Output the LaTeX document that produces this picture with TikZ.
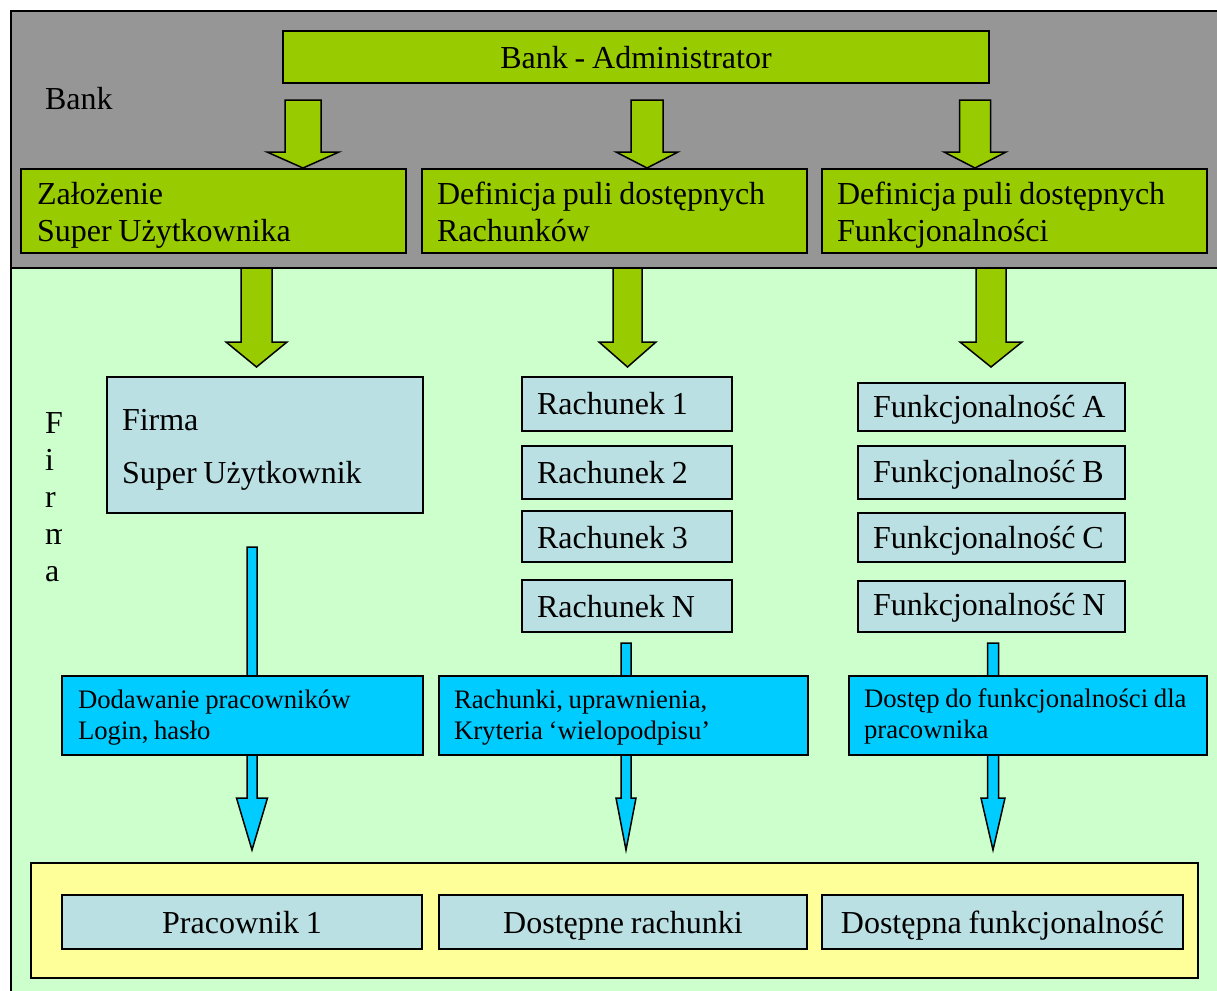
\documentclass[tikz,border=0pt]{standalone}
\usepackage{fontspec}
\setmainfont{Liberation Serif}[WordSpace=0.85]

\definecolor{bankgray}{RGB}{150,150,150}
\definecolor{limegreen}{RGB}{153,204,0}
\definecolor{mintbg}{RGB}{204,255,204}
\definecolor{paleblue}{RGB}{187,224,227}
\definecolor{skyblue}{RGB}{0,204,255}
\definecolor{paleyellow}{RGB}{255,255,153}

% empty box spanning (x1,y1) to (x2,y2)
\newcommand\panel[6]{%
  \pgfmathsetmacro\panelw{#5-#3}%
  \pgfmathsetmacro\panelh{#6-#4}%
  \node[#2, anchor=north west, minimum width=\panelw pt, minimum height=\panelh pt]
    (#1) at (#3,#4) {};}

% lines stacked with the current baselineskip; the baseline is that of the first line
\newcommand\twolines[2]{\vtop{\hbox{#1}\hbox{#2}}}

% block arrow: centre x, shaft top, head top, tip, shaft half width, head half width
\newcommand\blockarrow[7]{%
  \draw[#1] (#2-#6,#3) -- (#2-#6,#4) -- (#2-#7,#4) -- (#2,#5)
            -- (#2+#7,#4) -- (#2+#6,#4) -- (#2+#6,#3) -- cycle;}

\begin{document}
\begin{tikzpicture}[x=1pt,y=-1pt,
  box/.style={draw=black, line width=1.5pt, inner sep=0pt, outer sep=0pt},
  gbox/.style={box, fill=limegreen},
  lbox/.style={box, fill=paleblue},
  cbox/.style={box, fill=skyblue},
  big/.style={inner sep=0pt, outer sep=0pt, font=\fontsize{32}{37}\selectfont},
  small/.style={inner sep=0pt, outer sep=0pt, font=\fontsize{26.7}{31}\selectfont},
  garrow/.style={draw=black, line width=1.5pt, fill=limegreen, line join=miter},
  carrow/.style={draw=black, line width=1.5pt, fill=skyblue, line join=miter},
  zone/.style={draw=black, line width=2pt}]

\useasboundingbox (0,0) rectangle (1217,990);
\clip (0,0) rectangle (1217,990);

% bank and company zones
\fill[bankgray] (11,11) rectangle (1240,268);
\fill[mintbg] (11,268) rectangle (1240,1010);
\draw[zone] (1240,11) -- (11,11) -- (11,1010);
\draw[zone] (11,268) -- (1240,268);

% bank level
\panel{adm}{gbox}{283}{31}{989}{83}
\node[big, anchor=base] (admt) at ([shift={(0,37)}]adm.north) {Bank - Administrator};
\node[big, anchor=base west] (banklbl) at (45,109) {Bank};

\blockarrow{garrow}{303}{100}{152}{168}{18}{36}
\blockarrow{garrow}{647}{100}{152}{168}{16}{31}
\blockarrow{garrow}{975}{100}{152}{168}{15.5}{31}

\panel{zal}{gbox}{21}{169}{406}{253}
\node[big, anchor=base west] (zalt) at ([shift={(16,35)}]zal.north west)
  {\twolines{Założenie}{Super Użytkownika}};
\panel{defr}{gbox}{422}{169}{807}{253}
\node[big, anchor=base west] (defrt) at ([shift={(15,35)}]defr.north west)
  {\twolines{Definicja puli dostępnych}{Rachunków}};
\panel{deff}{gbox}{822}{169}{1207}{253}
\node[big, anchor=base west] (defft) at ([shift={(15,35)}]deff.north west)
  {\twolines{Definicja puli dostępnych}{Funkcjonalności}};

% company level
\blockarrow{garrow}{256.5}{268}{342}{367}{15.5}{30.5}
\blockarrow{garrow}{627.5}{268}{342}{367}{14.5}{28.5}
\blockarrow{garrow}{991}{268}{342}{367}{15}{31}

\begin{scope}
  \clip (30,395) rectangle (61,600);
  \node[big, anchor=base west, font=\fontsize{32}{37}\selectfont] (firmalbl) at (45,433)
    {\vtop{\hbox{F}\hbox{i}\hbox{r}\hbox{m}\hbox{a}}};
\end{scope}

\panel{firma}{lbox}{107}{377}{423}{513}
\node[big, anchor=base west, font=\fontsize{32}{53}\selectfont] (firmat)
  at ([shift={(15,53)}]firma.north west) {\twolines{Firma}{Super Użytkownik}};

\panel{r1}{lbox}{522}{377}{732}{431}
\panel{r2}{lbox}{522}{446}{732}{499}
\panel{r3}{lbox}{522}{511}{732}{562}
\panel{rn}{lbox}{522}{580}{732}{632}
\node[big, anchor=base west] (r1t) at ([shift={(15,37)}]r1.north west) {Rachunek 1};
\node[big, anchor=base west] (r2t) at ([shift={(15,37)}]r2.north west) {Rachunek 2};
\node[big, anchor=base west] (r3t) at ([shift={(15,37)}]r3.north west) {Rachunek 3};
\node[big, anchor=base west] (rnt) at ([shift={(15,37)}]rn.north west) {Rachunek N};

\panel{fa}{lbox}{858}{383}{1125}{431}
\panel{fb}{lbox}{858}{446}{1125}{499}
\panel{fc}{lbox}{858}{513}{1125}{562}
\panel{fn}{lbox}{858}{581}{1125}{632}
\node[big, anchor=base west] (fat) at ([shift={(15,34)}]fa.north west) {Funkcjonalność A};
\node[big, anchor=base west] (fbt) at ([shift={(15,36)}]fb.north west) {Funkcjonalność B};
\node[big, anchor=base west] (fct) at ([shift={(15,35)}]fc.north west) {Funkcjonalność C};
\node[big, anchor=base west] (fnt) at ([shift={(15,34)}]fn.north west) {Funkcjonalność N};

% employee set-up
\blockarrow{carrow}{252}{547}{798}{850}{5}{15.5}
\blockarrow{carrow}{626}{643}{798}{850}{5}{10}
\blockarrow{carrow}{993}{643}{798}{850}{5.5}{12}

\panel{dod}{cbox}{62}{676}{423}{755}
\node[small, anchor=base west] (dodt) at ([shift={(16,32)}]dod.north west)
  {\twolines{Dodawanie pracowników}{Login, hasło}};
\panel{upr}{cbox}{439}{676}{808}{755}
\node[small, anchor=base west] (uprt) at ([shift={(15,32)}]upr.north west)
  {\twolines{Rachunki, uprawnienia,}{Kryteria ‘wielopodpisu’}};
\panel{dost}{cbox}{849}{676}{1207}{755}
\node[small, anchor=base west] (dostt) at ([shift={(15,31)}]dost.north west)
  {\twolines{Dostęp do funkcjonalności dla}{pracownika}};

% resulting employee profile
\panel{pool}{box, fill=paleyellow}{31}{863}{1198}{978}
\panel{prac}{lbox}{62}{895}{422}{949}
\panel{dr}{lbox}{439}{895}{807}{949}
\panel{df}{lbox}{822}{895}{1183}{949}
\node[big, anchor=base] (pract) at ([shift={(0,38)}]prac.north) {Pracownik 1};
\node[big, anchor=base] (drt) at ([shift={(0,38)}]dr.north) {Dostępne rachunki};
\node[big, anchor=base] (dft) at ([shift={(0,38)}]df.north) {Dostępna funkcjonalność};

\end{tikzpicture}
\end{document}
